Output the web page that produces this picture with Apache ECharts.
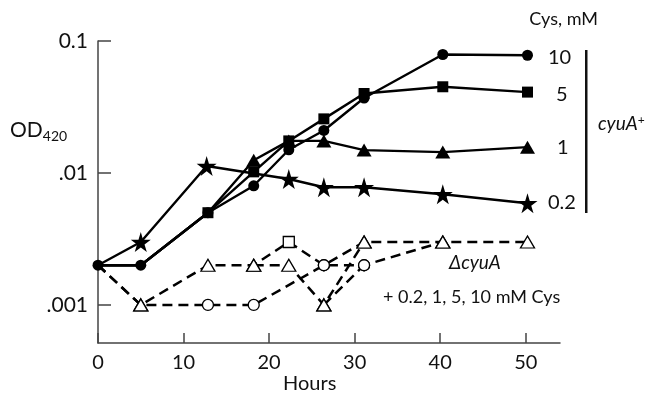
<!DOCTYPE html>
<html>
<head>
<meta charset="utf-8">
<script src="https://cdn.jsdelivr.net/npm/echarts@6.0.0/dist/echarts.min.js"></script>
<style>
  html, body { margin: 0; padding: 0; background: #fff; }
  #chart { width: 650px; height: 394px; }
</style>
</head>
<body>
<div id="chart"></div>
<script>
// wild type (cyuA+), hours sampled
const hours = [0, 5, 12.85, 18.2, 22.3, 26.4, 31.1, 40.3, 50.2];
const cys10 = [0.002, 0.002, 0.005, 0.008, 0.015, 0.021, 0.037, 0.079, 0.078];
const cys5 = [0.002, 0.002, 0.005, 0.0102, 0.0175, 0.0257, 0.040, 0.045, 0.041];
const cys1 = [0.002, 0.002, 0.005, 0.0125, 0.0175, 0.0175, 0.0149, 0.0144, 0.0157];
const starHours = [0, 5, 12.7, 22.3, 26.4, 31.1, 40.3, 50.2];
const cys02 = [0.002, 0.003, 0.0113, 0.009, 0.0078, 0.0078, 0.0069, 0.0059];
// points whose marker is covered by another series in the figure
const hide10 = [];
const hide5 = [0, 1];
const hide1 = [0, 1, 2];
const hide02 = [0];

// deletion mutant (dashed traces)
const mutAHours = [0, 5, 12.85, 18.2, 22.3, 26.4, 31.1, 40.3, 50.2];
const mutA = [0.002, 0.001, 0.002, 0.002, 0.003, 0.002, 0.003, 0.003, 0.003];
const mutAMarks = ['none', 'tri', 'tri', 'tri', 'sq', 'circ', 'tri', 'tri', 'tri'];
const mutBHours = [0, 5, 12.85, 18.2, 26.4, 31.1, 40.3];
const mutB = [0.002, 0.001, 0.001, 0.001, 0.002, 0.002, 0.003];
const mutBMarks = ['none', 'tri', 'circ', 'circ', 'circ', 'circ', 'tri'];
const mutCHours = [18.2, 22.3, 26.4, 31.1];
const mutC = [0.002, 0.002, 0.001, 0.003];
const mutCMarks = ['tri', 'tri', 'tri', 'tri'];
const mutDHours = [26.4, 31.1];
const mutD = [0.001, 0.002];
const mutDMarks = ['tri', 'circ'];

const xTicks = [0, 10, 20, 30, 40, 50];
const yTicks = [0.001, 0.01, 0.1];
const yTickText = { 0.001: '.001', 0.01: '.01', 0.1: '0.1' };

const FONT = 'Lato';
const STAR = 'path://M50,0 L61,35 L98,35 L68,57 L79,91 L50,70 L21,91 L32,57 L2,35 L39,35 Z';

const openShape = {
  tri: { symbol: 'triangle', symbolSize: [14, 12] },
  sq: { symbol: 'rect', symbolSize: 11 },
  circ: { symbol: 'circle', symbolSize: 11 },
  none: { symbol: 'none', symbolSize: 0 }
};

const openPoints = (xs, ys, marks) => xs.map((x, i) => {
  const s = openShape[marks[i]];
  return { value: [x, ys[i]], symbol: s.symbol, symbolSize: s.symbolSize };
});

const filledPoints = (xs, ys, hidden) => xs.map((x, i) =>
  hidden.includes(i) ? { value: [x, ys[i]], symbol: 'none' } : [x, ys[i]]
);

const solid = (name, data, symbol, size) => ({
  name: name,
  type: 'line',
  data: data,
  symbol: symbol,
  symbolSize: size,
  lineStyle: { color: '#000', width: 2.4 },
  itemStyle: { color: '#000' },
  animation: false,
  z: 3
});

const dashed = (name, data) => ({
  name: name,
  type: 'line',
  data: data,
  lineStyle: { color: '#000', width: 2.5, type: [10, 6] },
  itemStyle: { color: '#fff', borderColor: '#000', borderWidth: 1.3 },
  animation: false,
  z: 2
});

const txt = (x, y, text, size, extra) => ({
  type: 'text', x: x, y: y,
  style: Object.assign({ text: text, fontSize: size, fontFamily: FONT, fill: '#111', textVerticalAlign: 'middle' }, extra || {})
});

const chart = echarts.init(document.getElementById('chart'));
chart.setOption({
  backgroundColor: '#fff',
  textStyle: { fontFamily: FONT },
  grid: { left: 98, right: 90, top: 41, bottom: 51, containLabel: false },
  xAxis: {
    type: 'value',
    min: 0,
    max: 54,
    axisLine: { lineStyle: { color: '#444', width: 1.5 } },
    axisTick: { inside: true, length: 10, lineStyle: { color: '#444', width: 1.5 }, customValues: xTicks },
    axisLabel: { color: '#111', fontSize: 20, margin: 10, fontFamily: FONT, customValues: xTicks },
    splitLine: { show: false }
  },
  yAxis: {
    type: 'log',
    logBase: 10,
    min: 0.000515,
    max: 0.1,
    axisLine: { show: true, lineStyle: { color: '#444', width: 1.5 } },
    axisTick: { show: true, inside: true, length: 13, lineStyle: { color: '#444', width: 1.5 }, customValues: yTicks },
    axisLabel: {
      color: '#111', fontSize: 21, margin: 10, fontFamily: FONT,
      customValues: yTicks,
      formatter: v => yTickText[v] || ''
    },
    splitLine: { show: false }
  },
  series: [
    dashed('ΔcyuA a', openPoints(mutAHours, mutA, mutAMarks)),
    dashed('ΔcyuA b', openPoints(mutBHours, mutB, mutBMarks)),
    dashed('ΔcyuA c', openPoints(mutCHours, mutC, mutCMarks)),
    dashed('ΔcyuA d', openPoints(mutDHours, mutD, mutDMarks)),
    solid('0.2', filledPoints(starHours, cys02, hide02), STAR, 20),
    solid('1', filledPoints(hours, cys1, hide1), 'triangle', [15, 13]),
    solid('10', filledPoints(hours, cys10, hide10), 'circle', 11),
    solid('5', filledPoints(hours, cys5, hide5), 'rect', 11)
  ],
  graphic: [
    { type: 'text', x: 10, y: 117, style: {
        text: '{a|OD}{b|420}', rich: {
          a: { fontSize: 21, fontFamily: FONT, fill: '#111' },
          b: { fontSize: 14, fontFamily: FONT, fill: '#111', padding: [12, 0, 0, 0] }
        } } },
    txt(283, 384, 'Hours', 20),
    txt(598, 19, 'Cys, mM', 18, { textAlign: 'right' }),
    txt(548, 58, '10', 20),
    txt(556, 95, '5', 20),
    txt(557, 148, '1', 20),
    txt(548, 203, '0.2', 20),
    { type: 'rect', shape: { x: 585, y: 50, width: 2.5, height: 163 }, style: { fill: '#111' } },
    { type: 'text', x: 598, y: 124, style: {
        text: '{a|cyuA}{b|+}', textVerticalAlign: 'middle', rich: {
          a: { fontSize: 19, fontStyle: 'italic', fontFamily: FONT, fill: '#111' },
          b: { fontSize: 12, fontFamily: FONT, fill: '#111', padding: [0, 0, 8, 0] }
        } } },
    txt(449, 263, 'ΔcyuA', 19, { fontStyle: 'italic' }),
    txt(383, 297, '+ 0.2, 1, 5, 10 mM Cys', 18)
  ]
});
</script>
</body>
</html>
